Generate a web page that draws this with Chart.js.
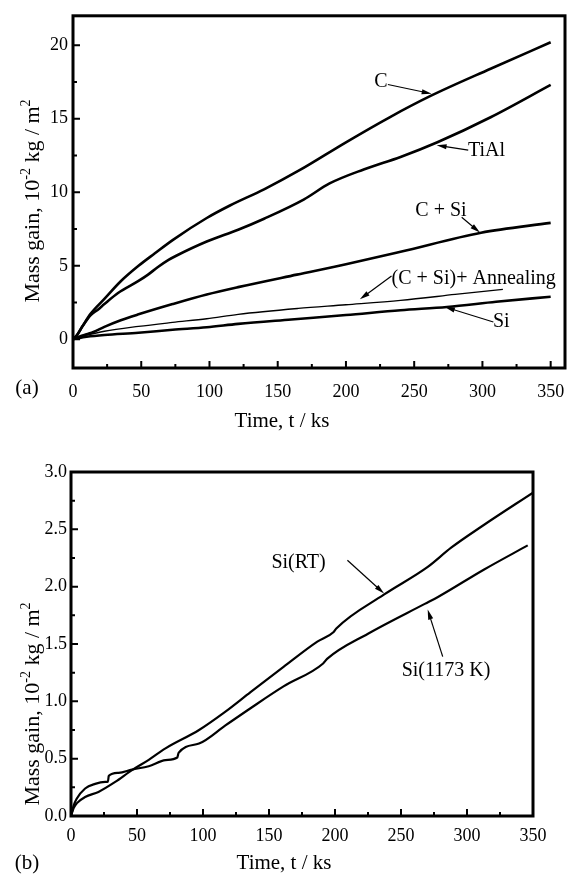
<!DOCTYPE html>
<html>
<head>
<meta charset="utf-8">
<script src="https://cdn.jsdelivr.net/npm/chart.js@4.4.1/dist/chart.umd.min.js"></script>
<style>
  html, body { margin: 0; padding: 0; background: #fff; }
  #wrap { position: relative; width: 588px; height: 876px; }
  canvas { position: absolute; left: 0; }
  #chartA { top: 0; }
  #chartB { top: 440px; }
</style>
</head>
<body>
<div id="wrap">
  <canvas id="chartA" width="588" height="440"></canvas>
  <canvas id="chartB" width="588" height="436"></canvas>
</div>
<script>
// (a) mass gain (10^-2 kg/m^2) vs time (ks)
const cTime = [0, 3, 7, 13, 23, 35, 48, 60, 73, 98, 115, 140, 166, 200, 232, 262, 306, 350];
const cGain = [0, 0.3, 0.9, 1.75, 2.75, 3.95, 5.0, 5.85, 6.75, 8.25, 9.1, 10.2, 11.5, 13.4, 15.1, 16.55, 18.4, 20.2];

const tialTime = [0, 3, 7, 13, 18, 23, 33, 48, 55, 62, 70, 76, 98, 121, 140, 169, 188, 213, 240, 267, 306, 350];
const tialGain = [0, 0.3, 0.9, 1.65, 2.0, 2.4, 3.15, 3.97, 4.4, 4.9, 5.4, 5.7, 6.65, 7.45, 8.2, 9.5, 10.6, 11.55, 12.4, 13.4, 15.1, 17.3];

const csiTime = [0, 5, 10, 15, 23, 35, 48, 73, 98, 121, 164, 200, 240, 299, 350];
const csiGain = [0, 0.2, 0.35, 0.5, 0.85, 1.3, 1.7, 2.4, 3.05, 3.55, 4.4, 5.1, 5.95, 7.25, 7.92];

const annTime = [0, 5, 10, 23, 48, 73, 98, 121, 165, 200, 240, 280, 315];
const annGain = [0, 0.15, 0.28, 0.55, 0.88, 1.15, 1.4, 1.7, 2.1, 2.35, 2.65, 3.05, 3.4];

const siTime = [0, 5, 10, 23, 48, 73, 98, 121, 160, 200, 240, 274, 310, 350];
const siGain = [0, 0.1, 0.17, 0.29, 0.45, 0.65, 0.82, 1.05, 1.35, 1.65, 1.98, 2.2, 2.55, 2.9];

// (b) Si coated, RT vs 1173 K
const rtTime = [0, 2, 4.3, 10.7, 20.8, 33.5, 46.2, 58.9, 71.6, 97, 117, 136, 161, 186.6, 199, 201, 237, 270, 288, 313, 350];
const rtGain = [0, 0.07, 0.11, 0.166, 0.21, 0.297, 0.4, 0.49, 0.59, 0.75, 0.91, 1.08, 1.3, 1.52, 1.605, 1.635, 1.93, 2.17, 2.34, 2.54, 2.82];

const hiTime = [0, 2, 4.3, 10.7, 18.3, 25.9, 28, 28.6, 36, 46.2, 58.9, 71.6, 80.5, 81.5, 97, 117, 136, 161, 191, 194, 225, 268, 278, 313, 346];
const hiGain = [0, 0.09, 0.15, 0.24, 0.28, 0.297, 0.3, 0.35, 0.376, 0.405, 0.434, 0.487, 0.51, 0.55, 0.632, 0.79, 0.94, 1.13, 1.33, 1.37, 1.59, 1.85, 1.91, 2.15, 2.36];

const serif = "'Liberation Serif', 'Times New Roman', serif";
const tickFont = { family: serif, size: 18 };

function series(xs, ys, width) {
  return {
    data: xs.map((t, i) => ({ x: t, y: ys[i] })),
    borderColor: "#000",
    borderWidth: width,
    pointRadius: 0,
    fill: false,
    cubicInterpolationMode: "monotone",
  };
}

function arrow(ctx, x0, y0, x1, y1) {
  const a = Math.atan2(y1 - y0, x1 - x0);
  const c = Math.cos(a), s = Math.sin(a);
  ctx.lineWidth = 1.2;
  ctx.beginPath();
  ctx.moveTo(x0, y0);
  ctx.lineTo(x1 - 6 * c, y1 - 6 * s);
  ctx.stroke();
  ctx.beginPath();
  ctx.moveTo(x1, y1);
  ctx.lineTo(x1 - 10 * c + 2.6 * s, y1 - 10 * s - 2.6 * c);
  ctx.lineTo(x1 - 10 * c - 2.6 * s, y1 - 10 * s + 2.6 * c);
  ctx.closePath();
  ctx.fill();
}

function yTitle(ctx, bx, cy) {
  const parts = [["Mass gain, 10", 0], ["-2", 1], [" kg / m", 0], ["2", 1]];
  const big = `22px ${serif}`, small = `14px ${serif}`;
  let w = 0;
  parts.forEach(([t, sup]) => { ctx.font = sup ? small : big; w += ctx.measureText(t).width; });
  ctx.save();
  ctx.translate(bx, cy);
  ctx.rotate(-Math.PI / 2);
  ctx.textAlign = "left";
  ctx.textBaseline = "alphabetic";
  let px = -w / 2;
  parts.forEach(([t, sup]) => {
    ctx.font = sup ? small : big;
    ctx.fillText(t, px, sup ? -9 : 0);
    px += ctx.measureText(t).width;
  });
  ctx.restore();
}

// frame, inward ticks, curve labels and axis titles
const decor = {
  id: "decor",
  afterDraw(chart, args, o) {
    const { ctx, chartArea: a } = chart;
    const x = chart.scales.x, y = chart.scales.y;
    ctx.save();
    ctx.strokeStyle = "#000";
    ctx.fillStyle = "#000";

    ctx.lineWidth = 2;
    ctx.beginPath();
    for (let i = Math.ceil(x.min / o.xMinor); i * o.xMinor <= x.max + 1e-9; i++) {
      const px = x.getPixelForValue(i * o.xMinor);
      ctx.moveTo(px, a.bottom);
      ctx.lineTo(px, a.bottom - (i % 2 === 0 ? 7 : 4));
    }
    for (let i = Math.ceil(y.min / o.yMinor); i * o.yMinor <= y.max + 1e-9; i++) {
      const py = y.getPixelForValue(i * o.yMinor);
      ctx.moveTo(a.left, py);
      ctx.lineTo(a.left + (i % 2 === 0 ? 7 : 4), py);
    }
    ctx.stroke();

    ctx.lineWidth = 3;
    ctx.strokeRect(a.left, a.top, a.right - a.left, a.bottom - a.top);

    ctx.font = `20px ${serif}`;
    ctx.textBaseline = "middle";
    o.notes.forEach((n) => {
      ctx.textAlign = n.align || "center";
      ctx.fillText(n.text, x.getPixelForValue(n.at[0]), y.getPixelForValue(n.at[1]));
      arrow(ctx,
        x.getPixelForValue(n.from[0]), y.getPixelForValue(n.from[1]),
        x.getPixelForValue(n.to[0]), y.getPixelForValue(n.to[1]));
    });

    ctx.font = `21px ${serif}`;
    ctx.textAlign = "center";
    ctx.fillText(o.tag[0], o.tag[1], o.tag[2]);
    ctx.fillText("Time, t / ks", o.xTitle[0], o.xTitle[1]);
    yTitle(ctx, o.yTitle[0], o.yTitle[1]);
    ctx.restore();
  },
};

function makeChart(id, datasets, opt) {
  return new Chart(document.getElementById(id), {
    type: "line",
    data: { datasets },
    options: {
      responsive: false,
      animation: false,
      devicePixelRatio: 1,
      layout: { padding: opt.padding },
      plugins: { legend: { display: false }, tooltip: { enabled: false }, decor: opt.decor },
      scales: {
        x: {
          type: "linear", min: opt.x[0], max: opt.x[1],
          grid: { display: false, drawTicks: false }, border: { display: false },
          ticks: { stepSize: opt.x[2], includeBounds: false, autoSkip: false, maxRotation: 0,
                   padding: opt.xPad, color: "#000", font: tickFont },
          afterFit: (s) => { s.height = opt.xHeight; },
        },
        y: {
          type: "linear", min: opt.y[0], max: opt.y[1],
          grid: { display: false, drawTicks: false }, border: { display: false },
          ticks: { stepSize: opt.y[2], includeBounds: false, autoSkip: false, padding: opt.yPad,
                   color: "#000", font: tickFont, callback: opt.yFmt },
          afterFit: (s) => { s.width = opt.yWidth; },
        },
      },
    },
    plugins: [decor],
  });
}

makeChart("chartA", [
  series(cTime, cGain, 2.6),
  series(tialTime, tialGain, 2.6),
  series(csiTime, csiGain, 2.6),
  series(annTime, annGain, 1.3),
  series(siTime, siGain, 2.6),
], {
  padding: { left: 0, top: 10, right: 23, bottom: 0 },
  x: [0, 360.5, 50], y: [-1.95, 22, 5],
  xPad: 13, yPad: 5, xHeight: 72, yWidth: 73,
  yFmt: (v) => v,
  decor: {
    xMinor: 25, yMinor: 2.5,
    tag: ["(a)", 27, 388], xTitle: [282, 421], yTitle: [39, 201],
    notes: [
      { text: "C", at: [225.6, 17.54], from: [230.7, 17.33], to: [262.8, 16.7] },
      { text: "TiAl", align: "left", at: [289.4, 12.85], from: [289.6, 12.87], to: [266.4, 13.2] },
      { text: "C + Si", at: [269.6, 8.77], from: [284.8, 8.3], to: [298.2, 7.26] },
      { text: "(C + Si)+ Annealing", align: "left", at: [233.4, 4.1], from: [233.4, 4.3], to: [210.2, 2.72] },
      { text: "Si", align: "left", at: [307.7, 1.22], from: [308, 1.18], to: [272.5, 2.2] },
    ],
  },
});

makeChart("chartB", [
  series(rtTime, rtGain, 2.2),
  series(hiTime, hiGain, 2.2),
], {
  padding: { left: 0, top: 32, right: 55, bottom: 0 },
  x: [0, 350, 50], y: [0, 3, 0.5],
  xPad: 9, yPad: 4, xHeight: 60, yWidth: 71,
  yFmt: (v) => v.toFixed(1),
  decor: {
    xMinor: 25, yMinor: 0.25,
    tag: ["(b)", 27, 423], xTitle: [284, 423], yTitle: [39, 264],
    notes: [
      { text: "Si(RT)", at: [172.4, 2.21], from: [209.4, 2.23], to: [237.2, 1.94] },
      { text: "Si(1173 K)", at: [284.1, 1.27], from: [281.6, 1.39], to: [270.2, 1.8] },
    ],
  },
});
</script>
</body>
</html>
